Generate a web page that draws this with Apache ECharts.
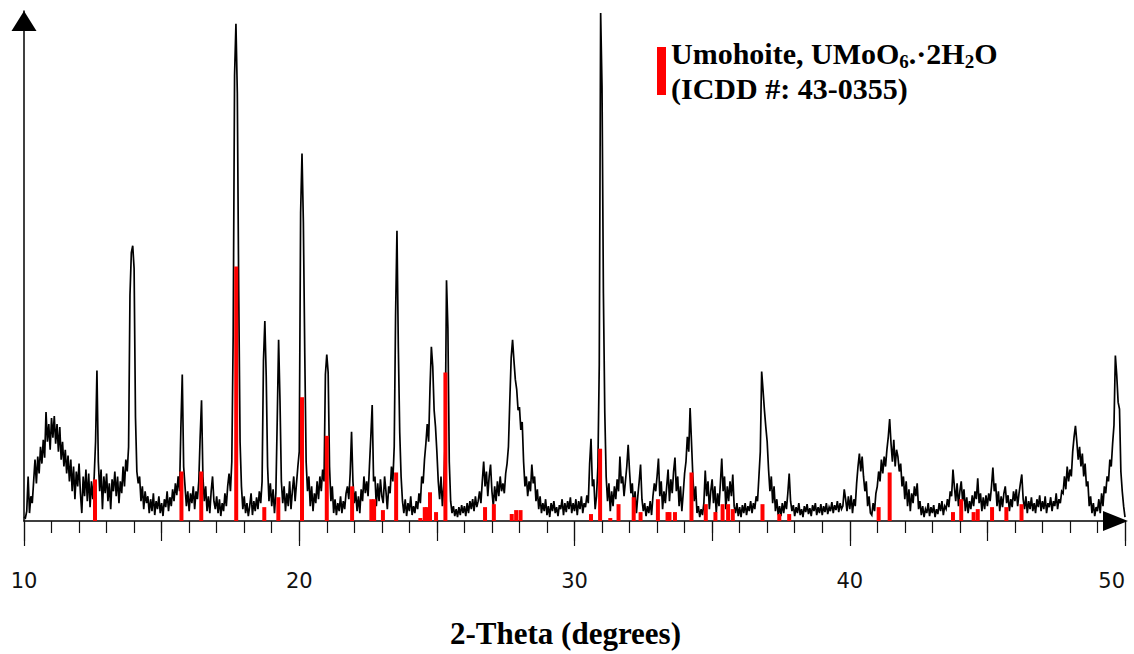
<!DOCTYPE html>
<html>
<head>
<meta charset="utf-8">
<script src="https://cdn.jsdelivr.net/npm/echarts@6/dist/echarts.min.js"></script>
<style>
html,body{margin:0;padding:0;background:#fff;}
#chart{width:1134px;height:654px;}
</style>
</head>
<body>
<div id="chart"></div>
<script>
// Scan grid (degrees 2-theta)
const startAngle = 10;
const stepAngle = 0.05;

// Measured pattern (arbitrary intensity units), one row per degree, 0.05 deg step
const intensity = [
  4,3,10,45,8,25,18,40,62,38,65,48,75,58,82,64,110,80,98,72,
  104,84,106,78,98,70,95,62,80,55,72,48,66,40,62,30,55,22,50,35,
  58,28,8,45,25,52,20,48,14,40,22,45,80,152,60,30,52,12,45,28,
  48,20,38,12,42,30,50,25,45,18,40,28,55,35,62,50,75,228,271,278,
  255,105,50,38,45,20,35,12,30,18,25,8,22,10,28,6,20,12,25,8,
  18,5,22,14,30,10,24,15,32,20,38,26,45,30,95,148,55,35,15,30,
  10,28,18,35,12,30,22,40,85,122,45,20,35,10,25,8,30,45,20,12,
  25,8,22,5,18,10,28,15,35,48,30,60,188,450,502,432,233,80,35,12,
  25,8,18,5,15,28,6,20,10,24,12,30,18,40,162,202,146,55,20,38,
  15,32,8,28,102,183,122,40,18,35,10,28,15,40,12,30,45,20,38,55,
  70,311,371,301,170,60,30,45,15,35,10,28,18,40,22,45,30,52,40,148,
  168,150,55,20,35,8,22,6,18,10,25,8,20,12,28,35,22,48,90,40,
  18,30,10,25,8,32,20,45,28,40,25,55,85,117,40,45,15,38,20,42,
  25,18,45,30,12,35,28,55,40,75,208,293,175,90,45,20,8,22,5,18,
  10,25,6,15,8,20,12,28,18,45,38,62,78,98,80,134,176,156,112,95,
  70,40,22,45,15,35,80,243,195,60,20,8,15,5,12,4,14,6,16,8,
  15,5,18,8,20,12,22,10,25,14,20,30,18,40,60,35,50,25,45,57,
  30,15,35,20,40,25,45,30,38,28,48,58,75,122,165,183,162,143,133,112,
  115,92,100,60,35,45,25,40,30,57,38,45,20,32,12,25,8,18,10,22,
  6,15,4,18,10,20,8,14,5,16,12,22,6,18,9,20,12,24,8,18,
  10,22,6,20,12,25,8,18,14,26,18,58,83,35,42,12,25,55,158,513,
  438,230,110,45,20,38,10,30,15,35,22,42,30,65,38,45,25,40,55,77,
  50,28,38,12,30,8,25,40,57,22,10,18,5,15,8,20,6,25,38,30,
  45,63,25,40,12,30,18,35,52,20,42,28,50,64,30,45,15,35,10,28,
  48,60,85,70,114,80,45,20,35,8,15,4,12,6,18,51,25,40,12,30,
  42,18,35,8,28,15,38,63,30,45,12,35,20,40,25,47,15,8,18,5,
  14,4,16,8,18,6,15,10,20,8,18,12,25,20,45,70,151,132,112,95,
  80,52,30,45,18,35,10,22,6,15,5,18,8,20,12,28,48,20,10,16,
  5,14,8,18,6,12,4,15,9,17,7,13,5,16,10,18,6,14,8,17,
  6,15,9,18,7,14,10,19,8,16,11,20,9,18,12,15,32,22,10,25,
  12,26,8,22,15,38,55,68,50,65,45,30,40,15,25,8,6,18,10,28,
  35,50,40,62,48,65,55,72,85,103,78,60,82,55,72,65,50,58,35,45,
  22,40,15,32,10,28,18,35,25,38,12,20,6,15,4,12,8,18,5,14,
  8,16,4,12,7,18,10,20,6,15,12,22,14,30,25,52,35,20,38,15,
  30,40,20,32,10,24,8,20,12,26,15,30,22,43,18,28,10,24,12,26,
  15,28,20,35,54,30,38,15,30,10,25,14,28,35,18,26,10,22,14,30,
  20,32,15,28,38,47,22,12,25,8,20,12,24,10,18,8,22,14,26,10,
  20,12,25,8,18,14,24,10,20,15,28,12,22,18,30,28,45,32,55,40,
  52,45,70,85,96,80,62,75,55,68,45,58,35,40,15,25,8,18,5,14,
  10,22,8,28,15,35,28,45,40,62,55,78,97,167,147,120,113,50,30,15,
  4
];

// Reference pattern sticks (ICDD 43-0355), same intensity units
const stickTheta = [12.58,15.72,16.44,17.71,18.73,19.24,20.10,21.00,21.92,22.62,22.72,23.04,23.52,24.40,24.56,24.64,24.75,24.97,25.31,26.75,27.07,27.72,27.88,28.04,30.60,30.93,31.30,31.60,32.15,32.40,33.03,33.38,33.45,33.65,34.25,34.77,35.12,35.38,35.58,35.75,36.83,37.44,37.80,41.05,41.45,43.75,44.05,44.50,44.65,45.17,45.69,46.24];
const stickIntensity = [42,50,50,257,14,24,125,86,35,22,22,11,49,3,14,14,29,9,150,14,17,7,11,11,7,73,3,17,24,9,22,9,9,9,49,17,9,17,17,12,17,7,7,14,49,9,22,9,12,14,14,17];

const xTickLabels = ['10','20','30','40','50'];
const axisTitle = '2-Theta (degrees)';
const seriesName = 'Umohoite';

const twoTheta = intensity.map((_, i) => +(startAngle + i * stepAngle).toFixed(2));
const traceData = twoTheta.map((t, i) => [t, intensity[i]]);
const stickData = stickTheta.map((t, i) => [t, stickIntensity[i]]);

const chart = echarts.init(document.getElementById('chart'), null, {renderer: 'svg'});
chart.setOption({
  animation: false,
  backgroundColor: '#ffffff',
  grid: {left: 24, right: 9, top: 11, bottom: 128, containLabel: false},
  legend: {
    data: [seriesName],
    left: 657, top: 36, padding: 0,
    icon: 'rect', itemWidth: 9, itemHeight: 48,
    selectedMode: false,
    formatter: () => 'Umohoite, UMoO{s|6}.·2H{s|2}O\n(ICDD #: 43-0355)',
    textStyle: {
      fontFamily: '"Liberation Serif", "DejaVu Serif", serif',
      fontWeight: 'bold', fontSize: 30, lineHeight: 35, color: '#000',
      rich: {
        s: {fontFamily: '"Liberation Serif", "DejaVu Serif", serif', fontWeight: 'bold', fontSize: 19, lineHeight: 24, verticalAlign: 'bottom', color: '#000'}
      }
    }
  },
  xAxis: [{
    type: 'value', min: 10, max: 50, interval: 10,
    position: 'bottom',
    axisLine: {show: true, onZero: false, symbol: ['none', 'triangle'], symbolSize: [20, 25], symbolOffset: [0, -9.5],
      lineStyle: {color: '#000', width: 1.5}},
    axisTick: {show: true, length: 25, lineStyle: {color: '#111', width: 1.2}},
    minorTick: {show: true, splitNumber: 10, length: 12, lineStyle: {color: '#111', width: 1.2}},
    splitLine: {show: false},
    axisLabel: {show: true, margin: 49, fontFamily: '"DejaVu Sans", sans-serif', fontSize: 21, color: '#111',
      alignMaxLabel: 'right',
      formatter: (v) => { const k = Math.round((v - 10) / 10); return xTickLabels[k] !== undefined ? xTickLabels[k] : ''; }},
    name: axisTitle, nameLocation: 'middle', nameGap: 97,
    nameTextStyle: {fontFamily: '"Liberation Serif", "DejaVu Serif", serif', fontWeight: 'bold', fontSize: 31, color: '#000', padding: [0, 18, 0, 0]}
  }, {
    type: 'value', min: 10, max: 50, interval: 5,
    position: 'bottom',
    axisLine: {show: false, onZero: false},
    axisTick: {show: true, length: 20, lineStyle: {color: '#111', width: 1.2}},
    axisLabel: {show: false},
    splitLine: {show: false}
  }],
  yAxis: {
    type: 'value', min: 0, max: 515,
    axisLine: {show: true, onZero: false, symbol: ['none', 'triangle'], symbolSize: [25, 20], symbolOffset: [0, -10],
      lineStyle: {color: '#000', width: 1.5}},
    axisTick: {show: false},
    axisLabel: {show: false},
    splitLine: {show: false}
  },
  series: [{
    name: 'pattern', type: 'line', data: traceData,
    showSymbol: false, symbol: 'none', clip: false, silent: true, z: 2,
    lineStyle: {color: '#000', width: 1.7, join: 'miter'}
  }, {
    name: seriesName, type: 'bar', data: stickData,
    barWidth: 4, silent: true, z: 3,
    itemStyle: {color: '#ff0000'}
  }]
});
</script>
</body>
</html>
